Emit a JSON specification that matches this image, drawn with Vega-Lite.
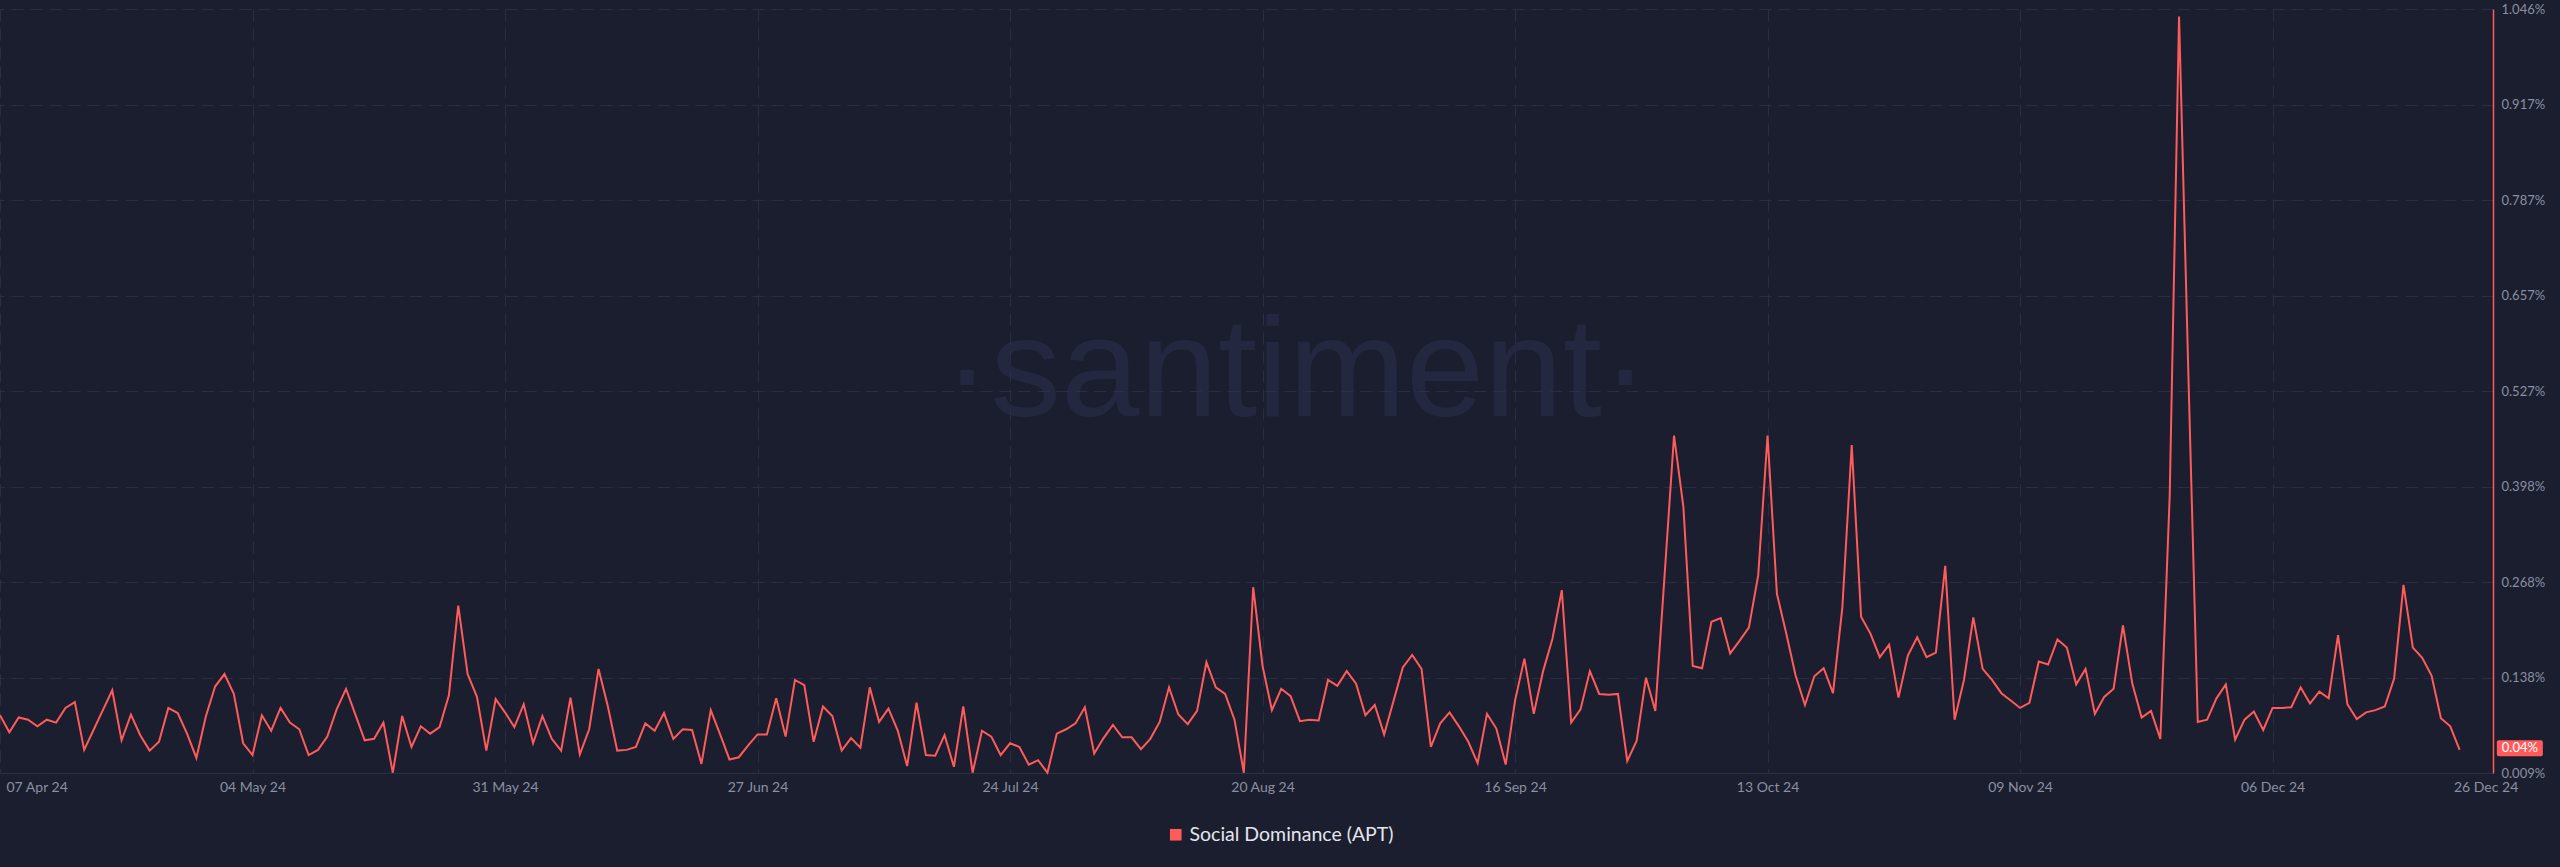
{
  "$schema": "https://vega.github.io/schema/vega-lite/v6.json",
  "width": 2493,
  "height": 764,
  "autosize": {"type": "none"},
  "padding": {"left": 0, "top": 9, "right": 67, "bottom": 94},
  "background": "#1b1e2e",
  "config": {"view": {"stroke": null}},
  "data": {"values": [
    {"date":"2024-04-07","value":0.087},{"date":"2024-04-08","value":0.064},{"date":"2024-04-09","value":0.084},{"date":"2024-04-10","value":0.081},{"date":"2024-04-11","value":0.072},{"date":"2024-04-12","value":0.081},{"date":"2024-04-13","value":0.077},{"date":"2024-04-14","value":0.097},{"date":"2024-04-15","value":0.105},{"date":"2024-04-16","value":0.040},{"date":"2024-04-17","value":0.067},{"date":"2024-04-18","value":0.094},{"date":"2024-04-19","value":0.121},{"date":"2024-04-20","value":0.053},{"date":"2024-04-21","value":0.088},{"date":"2024-04-22","value":0.060},{"date":"2024-04-23","value":0.039},{"date":"2024-04-24","value":0.051},{"date":"2024-04-25","value":0.097},{"date":"2024-04-26","value":0.090},{"date":"2024-04-27","value":0.062},{"date":"2024-04-28","value":0.029},{"date":"2024-04-29","value":0.085},{"date":"2024-04-30","value":0.126},
    {"date":"2024-05-01","value":0.143},{"date":"2024-05-02","value":0.116},{"date":"2024-05-03","value":0.049},{"date":"2024-05-04","value":0.033},{"date":"2024-05-05","value":0.087},{"date":"2024-05-06","value":0.066},{"date":"2024-05-07","value":0.097},{"date":"2024-05-08","value":0.077},{"date":"2024-05-09","value":0.068},{"date":"2024-05-10","value":0.033},{"date":"2024-05-11","value":0.040},{"date":"2024-05-12","value":0.058},{"date":"2024-05-13","value":0.095},{"date":"2024-05-14","value":0.123},{"date":"2024-05-15","value":0.088},{"date":"2024-05-16","value":0.053},{"date":"2024-05-17","value":0.055},{"date":"2024-05-18","value":0.077},{"date":"2024-05-19","value":0.009},{"date":"2024-05-20","value":0.086},{"date":"2024-05-21","value":0.044},{"date":"2024-05-22","value":0.072},{"date":"2024-05-23","value":0.062},{"date":"2024-05-24","value":0.071},{"date":"2024-05-25","value":0.114},{"date":"2024-05-26","value":0.236},{"date":"2024-05-27","value":0.143},{"date":"2024-05-28","value":0.112},{"date":"2024-05-29","value":0.039},{"date":"2024-05-30","value":0.109},{"date":"2024-05-31","value":0.091},
    {"date":"2024-06-01","value":0.071},{"date":"2024-06-02","value":0.102},{"date":"2024-06-03","value":0.049},{"date":"2024-06-04","value":0.086},{"date":"2024-06-05","value":0.055},{"date":"2024-06-06","value":0.039},{"date":"2024-06-07","value":0.111},{"date":"2024-06-08","value":0.034},{"date":"2024-06-09","value":0.068},{"date":"2024-06-10","value":0.150},{"date":"2024-06-11","value":0.099},{"date":"2024-06-12","value":0.039},{"date":"2024-06-13","value":0.040},{"date":"2024-06-14","value":0.044},{"date":"2024-06-15","value":0.076},{"date":"2024-06-16","value":0.066},{"date":"2024-06-17","value":0.090},{"date":"2024-06-18","value":0.055},{"date":"2024-06-19","value":0.068},{"date":"2024-06-20","value":0.067},{"date":"2024-06-21","value":0.021},{"date":"2024-06-22","value":0.094},{"date":"2024-06-23","value":0.061},{"date":"2024-06-24","value":0.027},{"date":"2024-06-25","value":0.030},{"date":"2024-06-26","value":0.046},{"date":"2024-06-27","value":0.061},{"date":"2024-06-28","value":0.061},{"date":"2024-06-29","value":0.110},{"date":"2024-06-30","value":0.058},
    {"date":"2024-07-01","value":0.135},{"date":"2024-07-02","value":0.128},{"date":"2024-07-03","value":0.051},{"date":"2024-07-04","value":0.099},{"date":"2024-07-05","value":0.086},{"date":"2024-07-06","value":0.039},{"date":"2024-07-07","value":0.056},{"date":"2024-07-08","value":0.043},{"date":"2024-07-09","value":0.125},{"date":"2024-07-10","value":0.078},{"date":"2024-07-11","value":0.096},{"date":"2024-07-12","value":0.066},{"date":"2024-07-13","value":0.018},{"date":"2024-07-14","value":0.104},{"date":"2024-07-15","value":0.033},{"date":"2024-07-16","value":0.032},{"date":"2024-07-17","value":0.060},{"date":"2024-07-18","value":0.017},{"date":"2024-07-19","value":0.099},{"date":"2024-07-20","value":0.009},{"date":"2024-07-21","value":0.066},{"date":"2024-07-22","value":0.058},{"date":"2024-07-23","value":0.033},{"date":"2024-07-24","value":0.049},{"date":"2024-07-25","value":0.044},{"date":"2024-07-26","value":0.020},{"date":"2024-07-27","value":0.026},{"date":"2024-07-28","value":0.009},{"date":"2024-07-29","value":0.062},{"date":"2024-07-30","value":0.068},{"date":"2024-07-31","value":0.076},
    {"date":"2024-08-01","value":0.098},{"date":"2024-08-02","value":0.035},{"date":"2024-08-03","value":0.056},{"date":"2024-08-04","value":0.074},{"date":"2024-08-05","value":0.057},{"date":"2024-08-06","value":0.057},{"date":"2024-08-07","value":0.041},{"date":"2024-08-08","value":0.055},{"date":"2024-08-09","value":0.078},{"date":"2024-08-10","value":0.125},{"date":"2024-08-11","value":0.088},{"date":"2024-08-12","value":0.075},{"date":"2024-08-13","value":0.093},{"date":"2024-08-14","value":0.159},{"date":"2024-08-15","value":0.125},{"date":"2024-08-16","value":0.116},{"date":"2024-08-17","value":0.081},{"date":"2024-08-18","value":0.009},{"date":"2024-08-19","value":0.261},{"date":"2024-08-20","value":0.154},{"date":"2024-08-21","value":0.094},{"date":"2024-08-22","value":0.123},{"date":"2024-08-23","value":0.113},{"date":"2024-08-24","value":0.079},{"date":"2024-08-25","value":0.081},{"date":"2024-08-26","value":0.080},{"date":"2024-08-27","value":0.135},{"date":"2024-08-28","value":0.127},{"date":"2024-08-29","value":0.147},{"date":"2024-08-30","value":0.130},{"date":"2024-08-31","value":0.087},
    {"date":"2024-09-01","value":0.101},{"date":"2024-09-02","value":0.061},{"date":"2024-09-03","value":0.106},{"date":"2024-09-04","value":0.152},{"date":"2024-09-05","value":0.169},{"date":"2024-09-06","value":0.150},{"date":"2024-09-07","value":0.044},{"date":"2024-09-08","value":0.076},{"date":"2024-09-09","value":0.091},{"date":"2024-09-10","value":0.072},{"date":"2024-09-11","value":0.051},{"date":"2024-09-12","value":0.022},{"date":"2024-09-13","value":0.089},{"date":"2024-09-14","value":0.069},{"date":"2024-09-15","value":0.020},{"date":"2024-09-16","value":0.107},{"date":"2024-09-17","value":0.164},{"date":"2024-09-18","value":0.089},{"date":"2024-09-19","value":0.147},{"date":"2024-09-20","value":0.191},{"date":"2024-09-21","value":0.257},{"date":"2024-09-22","value":0.077},{"date":"2024-09-23","value":0.095},{"date":"2024-09-24","value":0.147},{"date":"2024-09-25","value":0.116},{"date":"2024-09-26","value":0.115},{"date":"2024-09-27","value":0.116},{"date":"2024-09-28","value":0.025},{"date":"2024-09-29","value":0.052},{"date":"2024-09-30","value":0.138},
    {"date":"2024-10-01","value":0.093},{"date":"2024-10-02","value":0.279},{"date":"2024-10-03","value":0.467},{"date":"2024-10-04","value":0.370},{"date":"2024-10-05","value":0.154},{"date":"2024-10-06","value":0.151},{"date":"2024-10-07","value":0.214},{"date":"2024-10-08","value":0.219},{"date":"2024-10-09","value":0.171},{"date":"2024-10-10","value":0.188},{"date":"2024-10-11","value":0.206},{"date":"2024-10-12","value":0.277},{"date":"2024-10-13","value":0.467},{"date":"2024-10-14","value":0.252},{"date":"2024-10-15","value":0.198},{"date":"2024-10-16","value":0.141},{"date":"2024-10-17","value":0.101},{"date":"2024-10-18","value":0.140},{"date":"2024-10-19","value":0.151},{"date":"2024-10-20","value":0.117},{"date":"2024-10-21","value":0.234},{"date":"2024-10-22","value":0.454},{"date":"2024-10-23","value":0.221},{"date":"2024-10-24","value":0.198},{"date":"2024-10-25","value":0.166},{"date":"2024-10-26","value":0.183},{"date":"2024-10-27","value":0.111},{"date":"2024-10-28","value":0.168},{"date":"2024-10-29","value":0.193},{"date":"2024-10-30","value":0.166},{"date":"2024-10-31","value":0.172},
    {"date":"2024-11-01","value":0.290},{"date":"2024-11-02","value":0.081},{"date":"2024-11-03","value":0.135},{"date":"2024-11-04","value":0.220},{"date":"2024-11-05","value":0.150},{"date":"2024-11-06","value":0.135},{"date":"2024-11-07","value":0.117},{"date":"2024-11-08","value":0.107},{"date":"2024-11-09","value":0.097},{"date":"2024-11-10","value":0.104},{"date":"2024-11-11","value":0.160},{"date":"2024-11-12","value":0.156},{"date":"2024-11-13","value":0.190},{"date":"2024-11-14","value":0.179},{"date":"2024-11-15","value":0.129},{"date":"2024-11-16","value":0.150},{"date":"2024-11-17","value":0.089},{"date":"2024-11-18","value":0.112},{"date":"2024-11-19","value":0.123},{"date":"2024-11-20","value":0.209},{"date":"2024-11-21","value":0.130},{"date":"2024-11-22","value":0.084},{"date":"2024-11-23","value":0.093},{"date":"2024-11-24","value":0.055},{"date":"2024-11-25","value":0.385},{"date":"2024-11-26","value":1.036},{"date":"2024-11-27","value":0.549},{"date":"2024-11-28","value":0.078},{"date":"2024-11-29","value":0.081},{"date":"2024-11-30","value":0.110},
    {"date":"2024-12-01","value":0.129},{"date":"2024-12-02","value":0.054},{"date":"2024-12-03","value":0.081},{"date":"2024-12-04","value":0.092},{"date":"2024-12-05","value":0.067},{"date":"2024-12-06","value":0.097},{"date":"2024-12-07","value":0.097},{"date":"2024-12-08","value":0.098},{"date":"2024-12-09","value":0.125},{"date":"2024-12-10","value":0.103},{"date":"2024-12-11","value":0.119},{"date":"2024-12-12","value":0.110},{"date":"2024-12-13","value":0.196},{"date":"2024-12-14","value":0.102},{"date":"2024-12-15","value":0.082},{"date":"2024-12-16","value":0.091},{"date":"2024-12-17","value":0.094},{"date":"2024-12-18","value":0.099},{"date":"2024-12-19","value":0.137},{"date":"2024-12-20","value":0.264},{"date":"2024-12-21","value":0.179},{"date":"2024-12-22","value":0.165},{"date":"2024-12-23","value":0.141},{"date":"2024-12-24","value":0.083},{"date":"2024-12-25","value":0.072},{"date":"2024-12-26","value":0.040}
  ]},
  "layer": [
    {
      "data": {"values": [{"label": "·santiment·"}]},
      "mark": {"type": "text", "font": "Liberation Sans", "fontSize": 141, "color": "#2c3150", "opacity": 0.5, "align": "center", "baseline": "alphabetic"},
      "encoding": {
        "text": {"field": "label"},
        "x": {"datum": {"year": 2024, "month": 8, "date": 23, "hours": 14, "minutes": 24, "utc": true}, "type": "temporal", "title": null,
              "scale": {"type": "utc", "nice": false, "domain": [{"year": 2024, "month": 4, "date": 7, "utc": true}, {"year": 2024, "month": 12, "date": 29, "hours": 13, "minutes": 40, "utc": true}]}},
        "y": {"datum": 0.494, "type": "quantitative", "title": null, "scale": {"domain": [0.0086, 1.04636], "nice": false, "zero": false}}
      }
    },
    {
      "mark": {"type": "line", "strokeWidth": 2},
      "encoding": {
        "x": {"field": "date", "type": "temporal", "title": null,
              "scale": {"type": "utc", "nice": false, "domain": [{"year": 2024, "month": 4, "date": 7, "utc": true}, {"year": 2024, "month": 12, "date": 29, "hours": 13, "minutes": 40, "utc": true}]},
              "axis": {
                "values": [
                  {"year": 2024, "month": 4, "date": 7, "utc": true},
                  {"year": 2024, "month": 5, "date": 4, "utc": true},
                  {"year": 2024, "month": 5, "date": 31, "utc": true},
                  {"year": 2024, "month": 6, "date": 27, "utc": true},
                  {"year": 2024, "month": 7, "date": 24, "utc": true},
                  {"year": 2024, "month": 8, "date": 20, "utc": true},
                  {"year": 2024, "month": 9, "date": 16, "utc": true},
                  {"year": 2024, "month": 10, "date": 13, "utc": true},
                  {"year": 2024, "month": 11, "date": 9, "utc": true},
                  {"year": 2024, "month": 12, "date": 6, "utc": true},
                  {"year": 2024, "month": 12, "date": 26, "utc": true}
                ],
                "labelExpr": "utcFormat(datum.value, '%d %b %y')",
                "grid": true,
                "gridColor": {"condition": {"test": "utcdate(datum.value) == 26", "value": "transparent"}, "value": "#2a2e42"},
                "gridDash": [12, 7],
                "ticks": false,
                "domainColor": "#2c3044",
                "domainWidth": 1,
                "labelColor": "#8a8fa2",
                "labelFont": "Lato",
                "labelFontSize": 14,
                "labelPadding": 7,
                "labelOverlap": false,
                "labelBound": false,
                "labelFlush": false,
                "labelAlign": {"condition": {"test": "utcmonth(datum.value) == 3", "value": "left"}, "value": "center"},
                "labelOffset": {"condition": [{"test": "utcmonth(datum.value) == 3", "value": 6}, {"test": "utcdate(datum.value) == 26", "value": 26}], "value": 0}
              }},
        "y": {"field": "value", "type": "quantitative", "title": null,
              "scale": {"domain": [0.0086, 1.04636], "nice": false, "zero": false},
              "axis": {
                "orient": "right",
                "values": [0.0086, 0.13832, 0.26804, 0.39776, 0.52748, 0.6572, 0.78692, 0.91664, 1.04636],
                "labelExpr": "format(datum.value, '.3f') + '%'",
                "grid": true,
                "gridColor": "#2a2e42",
                "gridDash": [12, 7],
                "ticks": false,
                "domainColor": "#ff5b5b",
                "domainWidth": 1.5,
                "labelColor": "#8a8fa2",
                "labelFont": "Lato",
                "labelFontSize": 13,
                "labelPadding": 8,
                "labelBaseline": "middle",
                "labelAlign": "left",
                "labelBound": false,
                "labelFlush": false,
                "labelOverlap": false
              }},
        "color": {"datum": "Social Dominance (APT)", "scale": {"range": ["#ff5b5b"]},
                  "legend": {"orient": "none", "legendX": 1166, "legendY": 816, "title": null, "padding": 0,
                             "symbolType": "square", "symbolSize": 135, "symbolStrokeWidth": 0,
                             "labelFont": "Lato", "labelFontSize": 19.5, "labelColor": "#e3e5ec", "labelOffset": 4, "labelLimit": 0,
                             "encode": {"symbols": {"update": {"fill": {"value": "#ff5b5b"}, "stroke": {"value": "transparent"}}}}}}
      }
    },
    {
      "data": {"values": [{"label": "0.04%", "value": 0.04}]},
      "mark": {"type": "rect", "color": "#ff5b5b", "cornerRadius": 2},
      "encoding": {
        "x": {"datum": {"year": 2024, "month": 12, "date": 29, "hours": 23, "minutes": 30, "utc": true}, "type": "temporal", "title": null,
              "scale": {"type": "utc", "nice": false, "domain": [{"year": 2024, "month": 4, "date": 7, "utc": true}, {"year": 2024, "month": 12, "date": 29, "hours": 13, "minutes": 40, "utc": true}]}},
        "x2": {"datum": {"year": 2025, "month": 1, "date": 3, "hours": 21, "minutes": 36, "utc": true}},
        "y": {"datum": 0.053, "type": "quantitative", "title": null, "scale": {"domain": [0.0086, 1.04636], "nice": false, "zero": false}},
        "y2": {"datum": 0.0313}
      }
    },
    {
      "data": {"values": [{"label": "0.04%", "value": 0.04}]},
      "mark": {"type": "text", "color": "#ffffff", "font": "Lato", "fontSize": 13, "align": "center", "baseline": "middle", "dy": -1.5},
      "encoding": {
        "text": {"field": "label"},
        "x": {"datum": {"year": 2025, "month": 1, "date": 1, "hours": 10, "minutes": 30, "utc": true}, "type": "temporal", "title": null,
              "scale": {"type": "utc", "nice": false, "domain": [{"year": 2024, "month": 4, "date": 7, "utc": true}, {"year": 2024, "month": 12, "date": 29, "hours": 13, "minutes": 40, "utc": true}]}},
        "y": {"field": "value", "type": "quantitative", "title": null, "scale": {"domain": [0.0086, 1.04636], "nice": false, "zero": false}}
      }
    }
  ]
}
